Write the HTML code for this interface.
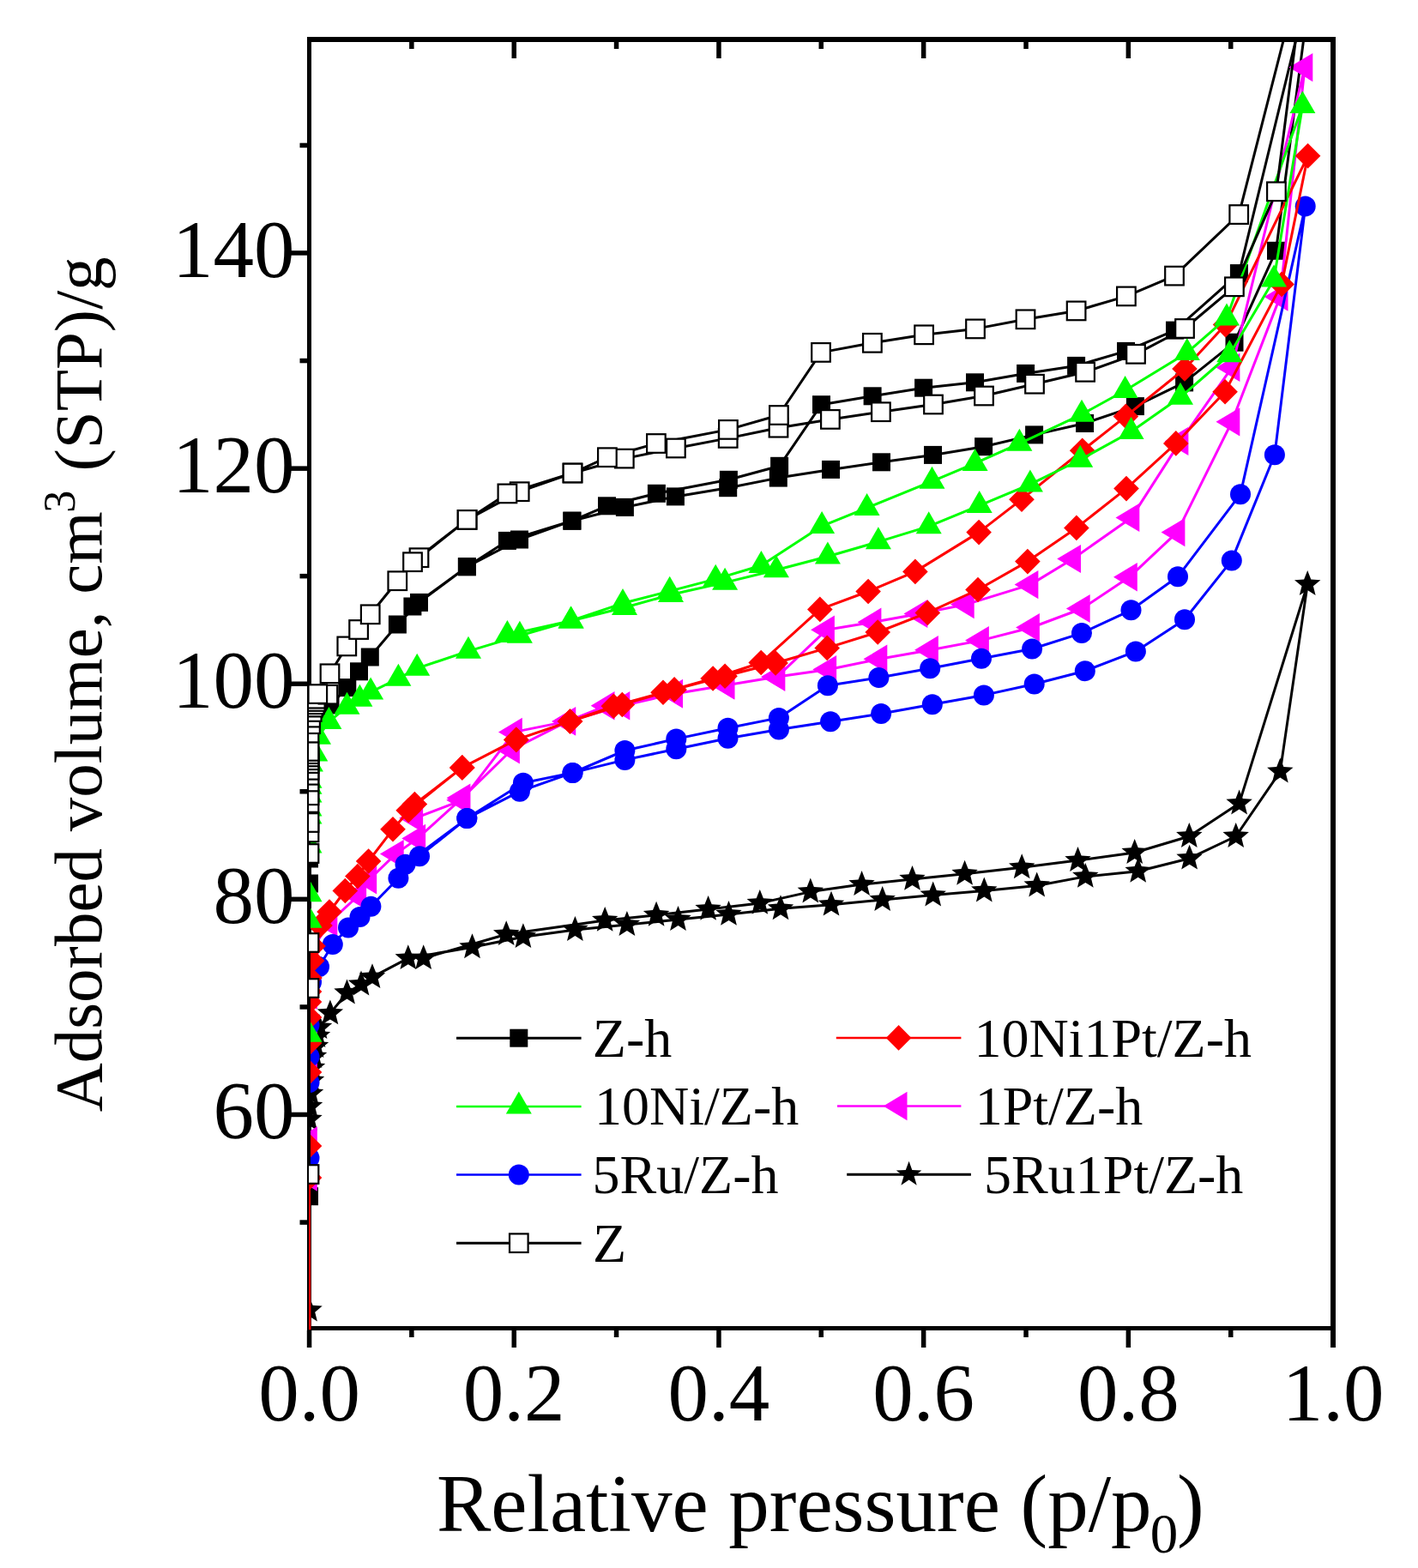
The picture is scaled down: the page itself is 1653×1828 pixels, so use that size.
<!DOCTYPE html>
<html><head><meta charset="utf-8"><title>Adsorption isotherms</title>
<style>html,body{margin:0;padding:0;background:#fff;overflow:hidden;}svg{display:block;}</style>
</head><body>
<svg width="1653" height="1828" viewBox="0 0 1653 1828">
<rect width="1653" height="1828" fill="#fff"/>
<defs><clipPath id="pc"><rect x="360" y="48.8" width="1191.2" height="1501.4"/></clipPath></defs>
<rect x="358" y="43" width="5" height="1528" fill="#000"/>
<rect x="358" y="43" width="1199" height="6" fill="#000"/>
<rect x="1551" y="43" width="6" height="1528" fill="#000"/>
<rect x="358" y="1546" width="1199" height="5" fill="#000"/>
<g clip-path="url(#pc)">
<path d="M360.5 1394.7L360.5 1030L360.5 1001L360.5 943L360.5 889L364 850L373 836L385 822L404.8 801.6L418.5 782.8L431.3 766L463.4 728L488.5 702.4L544.4 660.7L605.5 629L666.9 607.2L728.4 591.4L787.4 578.9L848.7 568.7L907.3 557.1L968.5 547.4L1027.5 538.8L1087.5 530.4L1146.6 520.7L1205.6 506.9L1264.6 493.5L1323.4 473.6L1380.6 445.9L1439 399.2L1487.5 292.3L1530 -33L1444.4 318.6L1369.5 385.1L1312.5 409.4L1254.6 426.4L1195.6 435.4L1136.5 445.8L1076.6 452.2L1017.1 461.8L957.5 471.7L908.6 543.3L849.4 559.3L765.4 575.3L707.5 589.8L666.9 607.2L591.4 630.4L544.4 660.7L480.9 707" fill="none" stroke="#000" stroke-width="3" stroke-linejoin="round"/>
<rect x="350" y="1384.2" width="21" height="21" fill="#000"/>
<rect x="350" y="1019.5" width="21" height="21" fill="#000"/>
<rect x="350" y="990.5" width="21" height="21" fill="#000"/>
<rect x="350" y="932.5" width="21" height="21" fill="#000"/>
<rect x="350" y="878.5" width="21" height="21" fill="#000"/>
<rect x="353.5" y="839.5" width="21" height="21" fill="#000"/>
<rect x="362.5" y="825.5" width="21" height="21" fill="#000"/>
<rect x="374.5" y="811.5" width="21" height="21" fill="#000"/>
<rect x="394.3" y="791.1" width="21" height="21" fill="#000"/>
<rect x="408" y="772.3" width="21" height="21" fill="#000"/>
<rect x="420.8" y="755.5" width="21" height="21" fill="#000"/>
<rect x="452.9" y="717.5" width="21" height="21" fill="#000"/>
<rect x="478" y="691.9" width="21" height="21" fill="#000"/>
<rect x="533.9" y="650.2" width="21" height="21" fill="#000"/>
<rect x="595" y="618.5" width="21" height="21" fill="#000"/>
<rect x="656.4" y="596.7" width="21" height="21" fill="#000"/>
<rect x="717.9" y="580.9" width="21" height="21" fill="#000"/>
<rect x="776.9" y="568.4" width="21" height="21" fill="#000"/>
<rect x="838.2" y="558.2" width="21" height="21" fill="#000"/>
<rect x="896.8" y="546.6" width="21" height="21" fill="#000"/>
<rect x="958" y="536.9" width="21" height="21" fill="#000"/>
<rect x="1017" y="528.3" width="21" height="21" fill="#000"/>
<rect x="1077" y="519.9" width="21" height="21" fill="#000"/>
<rect x="1136.1" y="510.2" width="21" height="21" fill="#000"/>
<rect x="1195.1" y="496.4" width="21" height="21" fill="#000"/>
<rect x="1254.1" y="483" width="21" height="21" fill="#000"/>
<rect x="1312.9" y="463.1" width="21" height="21" fill="#000"/>
<rect x="1370.1" y="435.4" width="21" height="21" fill="#000"/>
<rect x="1428.5" y="388.7" width="21" height="21" fill="#000"/>
<rect x="1477" y="281.8" width="21" height="21" fill="#000"/>
<rect x="1519.5" y="-43.5" width="21" height="21" fill="#000"/>
<rect x="1433.9" y="308.1" width="21" height="21" fill="#000"/>
<rect x="1359" y="374.6" width="21" height="21" fill="#000"/>
<rect x="1302" y="398.9" width="21" height="21" fill="#000"/>
<rect x="1244.1" y="415.9" width="21" height="21" fill="#000"/>
<rect x="1185.1" y="424.9" width="21" height="21" fill="#000"/>
<rect x="1126" y="435.3" width="21" height="21" fill="#000"/>
<rect x="1066.1" y="441.7" width="21" height="21" fill="#000"/>
<rect x="1006.6" y="451.3" width="21" height="21" fill="#000"/>
<rect x="947" y="461.2" width="21" height="21" fill="#000"/>
<rect x="898.1" y="532.8" width="21" height="21" fill="#000"/>
<rect x="838.9" y="548.8" width="21" height="21" fill="#000"/>
<rect x="754.9" y="564.8" width="21" height="21" fill="#000"/>
<rect x="697" y="579.3" width="21" height="21" fill="#000"/>
<rect x="656.4" y="596.7" width="21" height="21" fill="#000"/>
<rect x="580.9" y="619.9" width="21" height="21" fill="#000"/>
<rect x="533.9" y="650.2" width="21" height="21" fill="#000"/>
<rect x="470.4" y="696.5" width="21" height="21" fill="#000"/>
<path d="M360.5 1527.5L360.5 1305L361 1290L362 1275L363 1260L364 1245L366 1232L368 1220L370 1208L372 1198L384.9 1181.4L404.5 1157.5L421 1147.6L434 1139.2L475.8 1117.2L550.5 1104.3L609.9 1092.2L670.4 1084L730.9 1078L790.5 1072L849.5 1065.9L910 1059.3L969 1054.7L1028.7 1049.1L1087.7 1043.6L1147.3 1038.5L1208.7 1032.5L1265.3 1021.9L1326.7 1015.8L1386.6 1000.7L1440.7 975L1492.3 899.6L1524.2 681.1L1444.6 936.6L1386.3 975L1322.7 994L1256.5 1003.1L1191.2 1011.3L1124.6 1018.8L1063.5 1024.9L1004.6 1031.1L944.8 1039.6L885.8 1052.9L825.6 1059.9L765.1 1066.8L705.2 1072.9L590.2 1089.2L493.7 1117.2" fill="none" stroke="#000" stroke-width="3" stroke-linejoin="round"/>
<path d="M360.5 1511.5L364.6 1521.8L375.7 1522.6L367.2 1529.7L369.9 1540.4L360.5 1534.5L351.1 1540.4L353.8 1529.7L345.3 1522.6L356.4 1521.8Z" fill="#000"/>
<path d="M360.5 1289L364.6 1299.3L375.7 1300.1L367.2 1307.2L369.9 1317.9L360.5 1312L351.1 1317.9L353.8 1307.2L345.3 1300.1L356.4 1299.3Z" fill="#000"/>
<path d="M361 1274L365.1 1284.3L376.2 1285.1L367.7 1292.2L370.4 1302.9L361 1297L351.6 1302.9L354.3 1292.2L345.8 1285.1L356.9 1284.3Z" fill="#000"/>
<path d="M362 1259L366.1 1269.3L377.2 1270.1L368.7 1277.2L371.4 1287.9L362 1282L352.6 1287.9L355.3 1277.2L346.8 1270.1L357.9 1269.3Z" fill="#000"/>
<path d="M363 1244L367.1 1254.3L378.2 1255.1L369.7 1262.2L372.4 1272.9L363 1267L353.6 1272.9L356.3 1262.2L347.8 1255.1L358.9 1254.3Z" fill="#000"/>
<path d="M364 1229L368.1 1239.3L379.2 1240.1L370.7 1247.2L373.4 1257.9L364 1252L354.6 1257.9L357.3 1247.2L348.8 1240.1L359.9 1239.3Z" fill="#000"/>
<path d="M366 1216L370.1 1226.3L381.2 1227.1L372.7 1234.2L375.4 1244.9L366 1239L356.6 1244.9L359.3 1234.2L350.8 1227.1L361.9 1226.3Z" fill="#000"/>
<path d="M368 1204L372.1 1214.3L383.2 1215.1L374.7 1222.2L377.4 1232.9L368 1227L358.6 1232.9L361.3 1222.2L352.8 1215.1L363.9 1214.3Z" fill="#000"/>
<path d="M370 1192L374.1 1202.3L385.2 1203.1L376.7 1210.2L379.4 1220.9L370 1215L360.6 1220.9L363.3 1210.2L354.8 1203.1L365.9 1202.3Z" fill="#000"/>
<path d="M372 1182L376.1 1192.3L387.2 1193.1L378.7 1200.2L381.4 1210.9L372 1205L362.6 1210.9L365.3 1200.2L356.8 1193.1L367.9 1192.3Z" fill="#000"/>
<path d="M384.9 1165.4L389 1175.7L400.1 1176.5L391.6 1183.6L394.3 1194.3L384.9 1188.4L375.5 1194.3L378.2 1183.6L369.7 1176.5L380.8 1175.7Z" fill="#000"/>
<path d="M404.5 1141.5L408.6 1151.8L419.7 1152.6L411.2 1159.7L413.9 1170.4L404.5 1164.5L395.1 1170.4L397.8 1159.7L389.3 1152.6L400.4 1151.8Z" fill="#000"/>
<path d="M421 1131.6L425.1 1141.9L436.2 1142.7L427.7 1149.8L430.4 1160.5L421 1154.6L411.6 1160.5L414.3 1149.8L405.8 1142.7L416.9 1141.9Z" fill="#000"/>
<path d="M434 1123.2L438.1 1133.5L449.2 1134.3L440.7 1141.4L443.4 1152.1L434 1146.2L424.6 1152.1L427.3 1141.4L418.8 1134.3L429.9 1133.5Z" fill="#000"/>
<path d="M475.8 1101.2L479.9 1111.5L491 1112.3L482.5 1119.4L485.2 1130.1L475.8 1124.2L466.4 1130.1L469.1 1119.4L460.6 1112.3L471.7 1111.5Z" fill="#000"/>
<path d="M550.5 1088.3L554.6 1098.6L565.7 1099.4L557.2 1106.5L559.9 1117.2L550.5 1111.3L541.1 1117.2L543.8 1106.5L535.3 1099.4L546.4 1098.6Z" fill="#000"/>
<path d="M609.9 1076.2L614 1086.5L625.1 1087.3L616.6 1094.4L619.3 1105.1L609.9 1099.2L600.5 1105.1L603.2 1094.4L594.7 1087.3L605.8 1086.5Z" fill="#000"/>
<path d="M670.4 1068L674.5 1078.3L685.6 1079.1L677.1 1086.2L679.8 1096.9L670.4 1091L661 1096.9L663.7 1086.2L655.2 1079.1L666.3 1078.3Z" fill="#000"/>
<path d="M730.9 1062L735 1072.3L746.1 1073.1L737.6 1080.2L740.3 1090.9L730.9 1085L721.5 1090.9L724.2 1080.2L715.7 1073.1L726.8 1072.3Z" fill="#000"/>
<path d="M790.5 1056L794.6 1066.3L805.7 1067.1L797.2 1074.2L799.9 1084.9L790.5 1079L781.1 1084.9L783.8 1074.2L775.3 1067.1L786.4 1066.3Z" fill="#000"/>
<path d="M849.5 1049.9L853.6 1060.2L864.7 1061L856.2 1068.1L858.9 1078.8L849.5 1072.9L840.1 1078.8L842.8 1068.1L834.3 1061L845.4 1060.2Z" fill="#000"/>
<path d="M910 1043.3L914.1 1053.6L925.2 1054.4L916.7 1061.5L919.4 1072.2L910 1066.3L900.6 1072.2L903.3 1061.5L894.8 1054.4L905.9 1053.6Z" fill="#000"/>
<path d="M969 1038.7L973.1 1049L984.2 1049.8L975.7 1056.9L978.4 1067.6L969 1061.7L959.6 1067.6L962.3 1056.9L953.8 1049.8L964.9 1049Z" fill="#000"/>
<path d="M1028.7 1033.1L1032.8 1043.4L1043.9 1044.2L1035.4 1051.3L1038.1 1062L1028.7 1056.1L1019.3 1062L1022 1051.3L1013.5 1044.2L1024.6 1043.4Z" fill="#000"/>
<path d="M1087.7 1027.6L1091.8 1037.9L1102.9 1038.7L1094.4 1045.8L1097.1 1056.5L1087.7 1050.6L1078.3 1056.5L1081 1045.8L1072.5 1038.7L1083.6 1037.9Z" fill="#000"/>
<path d="M1147.3 1022.5L1151.4 1032.8L1162.5 1033.6L1154 1040.7L1156.7 1051.4L1147.3 1045.5L1137.9 1051.4L1140.6 1040.7L1132.1 1033.6L1143.2 1032.8Z" fill="#000"/>
<path d="M1208.7 1016.5L1212.8 1026.8L1223.9 1027.6L1215.4 1034.7L1218.1 1045.4L1208.7 1039.5L1199.3 1045.4L1202 1034.7L1193.5 1027.6L1204.6 1026.8Z" fill="#000"/>
<path d="M1265.3 1005.9L1269.4 1016.2L1280.5 1017L1272 1024.1L1274.7 1034.8L1265.3 1028.9L1255.9 1034.8L1258.6 1024.1L1250.1 1017L1261.2 1016.2Z" fill="#000"/>
<path d="M1326.7 999.8L1330.8 1010.1L1341.9 1010.9L1333.4 1018L1336.1 1028.7L1326.7 1022.8L1317.3 1028.7L1320 1018L1311.5 1010.9L1322.6 1010.1Z" fill="#000"/>
<path d="M1386.6 984.7L1390.7 995L1401.8 995.8L1393.3 1002.9L1396 1013.6L1386.6 1007.7L1377.2 1013.6L1379.9 1002.9L1371.4 995.8L1382.5 995Z" fill="#000"/>
<path d="M1440.7 959L1444.8 969.3L1455.9 970.1L1447.4 977.2L1450.1 987.9L1440.7 982L1431.3 987.9L1434 977.2L1425.5 970.1L1436.6 969.3Z" fill="#000"/>
<path d="M1492.3 883.6L1496.4 893.9L1507.5 894.7L1499 901.8L1501.7 912.5L1492.3 906.6L1482.9 912.5L1485.6 901.8L1477.1 894.7L1488.2 893.9Z" fill="#000"/>
<path d="M1524.2 665.1L1528.3 675.4L1539.4 676.2L1530.9 683.3L1533.6 694L1524.2 688.1L1514.8 694L1517.5 683.3L1509 676.2L1520.1 675.4Z" fill="#000"/>
<path d="M1444.6 920.6L1448.7 930.9L1459.8 931.7L1451.3 938.8L1454 949.5L1444.6 943.6L1435.2 949.5L1437.9 938.8L1429.4 931.7L1440.5 930.9Z" fill="#000"/>
<path d="M1386.3 959L1390.4 969.3L1401.5 970.1L1393 977.2L1395.7 987.9L1386.3 982L1376.9 987.9L1379.6 977.2L1371.1 970.1L1382.2 969.3Z" fill="#000"/>
<path d="M1322.7 978L1326.8 988.3L1337.9 989.1L1329.4 996.2L1332.1 1006.9L1322.7 1001L1313.3 1006.9L1316 996.2L1307.5 989.1L1318.6 988.3Z" fill="#000"/>
<path d="M1256.5 987.1L1260.6 997.4L1271.7 998.2L1263.2 1005.3L1265.9 1016L1256.5 1010.1L1247.1 1016L1249.8 1005.3L1241.3 998.2L1252.4 997.4Z" fill="#000"/>
<path d="M1191.2 995.3L1195.3 1005.6L1206.4 1006.4L1197.9 1013.5L1200.6 1024.2L1191.2 1018.3L1181.8 1024.2L1184.5 1013.5L1176 1006.4L1187.1 1005.6Z" fill="#000"/>
<path d="M1124.6 1002.8L1128.7 1013.1L1139.8 1013.9L1131.3 1021L1134 1031.7L1124.6 1025.8L1115.2 1031.7L1117.9 1021L1109.4 1013.9L1120.5 1013.1Z" fill="#000"/>
<path d="M1063.5 1008.9L1067.6 1019.2L1078.7 1020L1070.2 1027.1L1072.9 1037.8L1063.5 1031.9L1054.1 1037.8L1056.8 1027.1L1048.3 1020L1059.4 1019.2Z" fill="#000"/>
<path d="M1004.6 1015.1L1008.7 1025.4L1019.8 1026.2L1011.3 1033.3L1014 1044L1004.6 1038.1L995.2 1044L997.9 1033.3L989.4 1026.2L1000.5 1025.4Z" fill="#000"/>
<path d="M944.8 1023.6L948.9 1033.9L960 1034.7L951.5 1041.8L954.2 1052.5L944.8 1046.6L935.4 1052.5L938.1 1041.8L929.6 1034.7L940.7 1033.9Z" fill="#000"/>
<path d="M885.8 1036.9L889.9 1047.2L901 1048L892.5 1055.1L895.2 1065.8L885.8 1059.9L876.4 1065.8L879.1 1055.1L870.6 1048L881.7 1047.2Z" fill="#000"/>
<path d="M825.6 1043.9L829.7 1054.2L840.8 1055L832.3 1062.1L835 1072.8L825.6 1066.9L816.2 1072.8L818.9 1062.1L810.4 1055L821.5 1054.2Z" fill="#000"/>
<path d="M765.1 1050.8L769.2 1061.1L780.3 1061.9L771.8 1069L774.5 1079.7L765.1 1073.8L755.7 1079.7L758.4 1069L749.9 1061.9L761 1061.1Z" fill="#000"/>
<path d="M705.2 1056.9L709.3 1067.2L720.4 1068L711.9 1075.1L714.6 1085.8L705.2 1079.9L695.8 1085.8L698.5 1075.1L690 1068L701.1 1067.2Z" fill="#000"/>
<path d="M590.2 1073.2L594.3 1083.5L605.4 1084.3L596.9 1091.4L599.6 1102.1L590.2 1096.2L580.8 1102.1L583.5 1091.4L575 1084.3L586.1 1083.5Z" fill="#000"/>
<path d="M493.7 1101.2L497.8 1111.5L508.9 1112.3L500.4 1119.4L503.1 1130.1L493.7 1124.2L484.3 1130.1L487 1119.4L478.5 1112.3L489.6 1111.5Z" fill="#000"/>
<path d="M360.5 1372L360.5 1330L360.5 1250L360.5 1200L360.5 1160L362 1110L384 1075.4L417.8 1044L429.9 1025.8L461.4 995.6L486.8 977.4L539.1 930.2L596.6 874L661.8 840.9L725 822.7L786.7 808.7L847 798.8L905.9 789.1L965.8 780.5L1025 768.3L1084.6 757.8L1143.6 746.6L1202.6 731.5L1261.4 709.5L1316.5 672.8L1372.1 620.6L1436 491.8L1492.2 346.1L1521 78.5L1436.1 428.4L1376.1 514.4L1319 603.4L1250.7 651.5L1201.1 681.6L1126.4 704.6L1072 715.5L1018.1 725.3L963.6 734.2L905.9 789.1L847 798.8L786.7 808.7L707.2 822.7L661.8 840.9L599.5 853.4L538.8 932.8L483.8 953.8" fill="none" stroke="#f0f" stroke-width="3" stroke-linejoin="round"/>
<path d="M342 1372L369.8 1355.3L369.8 1388.7Z" fill="#f0f"/>
<path d="M342 1330L369.8 1313.3L369.8 1346.7Z" fill="#f0f"/>
<path d="M342 1250L369.8 1233.3L369.8 1266.7Z" fill="#f0f"/>
<path d="M342 1200L369.8 1183.3L369.8 1216.7Z" fill="#f0f"/>
<path d="M342 1160L369.8 1143.3L369.8 1176.7Z" fill="#f0f"/>
<path d="M343.5 1110L371.3 1093.3L371.3 1126.7Z" fill="#f0f"/>
<path d="M365.5 1075.4L393.3 1058.8L393.3 1092.1Z" fill="#f0f"/>
<path d="M399.3 1044L427.1 1027.3L427.1 1060.7Z" fill="#f0f"/>
<path d="M411.4 1025.8L439.2 1009.1L439.2 1042.5Z" fill="#f0f"/>
<path d="M442.9 995.6L470.7 979L470.7 1012.2Z" fill="#f0f"/>
<path d="M468.3 977.4L496.1 960.8L496.1 994Z" fill="#f0f"/>
<path d="M520.6 930.2L548.4 913.6L548.4 946.9Z" fill="#f0f"/>
<path d="M578.1 874L605.9 857.4L605.9 890.6Z" fill="#f0f"/>
<path d="M643.3 840.9L671.1 824.2L671.1 857.5Z" fill="#f0f"/>
<path d="M706.5 822.7L734.3 806.1L734.3 839.4Z" fill="#f0f"/>
<path d="M768.2 808.7L796 792.1L796 825.4Z" fill="#f0f"/>
<path d="M828.5 798.8L856.3 782.1L856.3 815.4Z" fill="#f0f"/>
<path d="M887.4 789.1L915.2 772.5L915.2 805.8Z" fill="#f0f"/>
<path d="M947.3 780.5L975.1 763.9L975.1 797.1Z" fill="#f0f"/>
<path d="M1006.5 768.3L1034.3 751.6L1034.3 784.9Z" fill="#f0f"/>
<path d="M1066.1 757.8L1093.9 741.1L1093.9 774.4Z" fill="#f0f"/>
<path d="M1125.1 746.6L1152.9 730L1152.9 763.2Z" fill="#f0f"/>
<path d="M1184.1 731.5L1211.9 714.9L1211.9 748.1Z" fill="#f0f"/>
<path d="M1242.9 709.5L1270.7 692.9L1270.7 726.1Z" fill="#f0f"/>
<path d="M1298 672.8L1325.8 656.1L1325.8 689.4Z" fill="#f0f"/>
<path d="M1353.6 620.6L1381.4 604L1381.4 637.2Z" fill="#f0f"/>
<path d="M1417.5 491.8L1445.3 475.2L1445.3 508.4Z" fill="#f0f"/>
<path d="M1473.7 346.1L1501.5 329.5L1501.5 362.8Z" fill="#f0f"/>
<path d="M1502.5 78.5L1530.3 61.9L1530.3 95.2Z" fill="#f0f"/>
<path d="M1417.6 428.4L1445.4 411.8L1445.4 445Z" fill="#f0f"/>
<path d="M1357.6 514.4L1385.4 497.8L1385.4 531Z" fill="#f0f"/>
<path d="M1300.5 603.4L1328.3 586.8L1328.3 620Z" fill="#f0f"/>
<path d="M1232.2 651.5L1260 634.9L1260 668.1Z" fill="#f0f"/>
<path d="M1182.6 681.6L1210.4 665L1210.4 698.2Z" fill="#f0f"/>
<path d="M1107.9 704.6L1135.7 688L1135.7 721.2Z" fill="#f0f"/>
<path d="M1053.5 715.5L1081.3 698.9L1081.3 732.1Z" fill="#f0f"/>
<path d="M999.6 725.3L1027.4 708.6L1027.4 741.9Z" fill="#f0f"/>
<path d="M945.1 734.2L972.9 717.6L972.9 750.9Z" fill="#f0f"/>
<path d="M887.4 789.1L915.2 772.5L915.2 805.8Z" fill="#f0f"/>
<path d="M828.5 798.8L856.3 782.1L856.3 815.4Z" fill="#f0f"/>
<path d="M768.2 808.7L796 792.1L796 825.4Z" fill="#f0f"/>
<path d="M688.7 822.7L716.5 806.1L716.5 839.4Z" fill="#f0f"/>
<path d="M643.3 840.9L671.1 824.2L671.1 857.5Z" fill="#f0f"/>
<path d="M581 853.4L608.8 836.8L608.8 870Z" fill="#f0f"/>
<path d="M520.3 932.8L548.1 916.1L548.1 949.4Z" fill="#f0f"/>
<path d="M465.3 953.8L493.1 937.1L493.1 970.4Z" fill="#f0f"/>
<path d="M360.5 1350L360.5 1262L360.5 1232L360.5 1195L363 1145L372 1127L387.8 1101L406 1081.5L419.5 1069L432.4 1056.8L464.4 1023.8L489 998.2L544.3 954.1L605.9 922.7L667.5 900.9L728.4 885.9L788.3 873.2L848.5 860.8L907.9 850.5L968.1 841.2L1027.1 832.1L1086.8 821.2L1146.9 810.4L1205.7 797.5L1264.8 782.2L1323.9 759.4L1381 722.2L1435.8 653.4L1485.9 530.3L1521.7 240.5L1446 576.2L1373 672.3L1318.5 711.3L1261 738.1L1203.1 756.5L1144 767.7L1084.2 779.3L1024.4 789.9L964.9 799.3L907.9 836.9L848.5 848.7L788.3 861.4L728.4 875L667.5 900.9L609.9 912.7L544.3 954.1L472.5 1007.7" fill="none" stroke="#00f" stroke-width="3" stroke-linejoin="round"/>
<circle cx="360.5" cy="1350" r="12" fill="#00f"/>
<circle cx="360.5" cy="1262" r="12" fill="#00f"/>
<circle cx="360.5" cy="1232" r="12" fill="#00f"/>
<circle cx="360.5" cy="1195" r="12" fill="#00f"/>
<circle cx="363" cy="1145" r="12" fill="#00f"/>
<circle cx="372" cy="1127" r="12" fill="#00f"/>
<circle cx="387.8" cy="1101" r="12" fill="#00f"/>
<circle cx="406" cy="1081.5" r="12" fill="#00f"/>
<circle cx="419.5" cy="1069" r="12" fill="#00f"/>
<circle cx="432.4" cy="1056.8" r="12" fill="#00f"/>
<circle cx="464.4" cy="1023.8" r="12" fill="#00f"/>
<circle cx="489" cy="998.2" r="12" fill="#00f"/>
<circle cx="544.3" cy="954.1" r="12" fill="#00f"/>
<circle cx="605.9" cy="922.7" r="12" fill="#00f"/>
<circle cx="667.5" cy="900.9" r="12" fill="#00f"/>
<circle cx="728.4" cy="885.9" r="12" fill="#00f"/>
<circle cx="788.3" cy="873.2" r="12" fill="#00f"/>
<circle cx="848.5" cy="860.8" r="12" fill="#00f"/>
<circle cx="907.9" cy="850.5" r="12" fill="#00f"/>
<circle cx="968.1" cy="841.2" r="12" fill="#00f"/>
<circle cx="1027.1" cy="832.1" r="12" fill="#00f"/>
<circle cx="1086.8" cy="821.2" r="12" fill="#00f"/>
<circle cx="1146.9" cy="810.4" r="12" fill="#00f"/>
<circle cx="1205.7" cy="797.5" r="12" fill="#00f"/>
<circle cx="1264.8" cy="782.2" r="12" fill="#00f"/>
<circle cx="1323.9" cy="759.4" r="12" fill="#00f"/>
<circle cx="1381" cy="722.2" r="12" fill="#00f"/>
<circle cx="1435.8" cy="653.4" r="12" fill="#00f"/>
<circle cx="1485.9" cy="530.3" r="12" fill="#00f"/>
<circle cx="1521.7" cy="240.5" r="12" fill="#00f"/>
<circle cx="1446" cy="576.2" r="12" fill="#00f"/>
<circle cx="1373" cy="672.3" r="12" fill="#00f"/>
<circle cx="1318.5" cy="711.3" r="12" fill="#00f"/>
<circle cx="1261" cy="738.1" r="12" fill="#00f"/>
<circle cx="1203.1" cy="756.5" r="12" fill="#00f"/>
<circle cx="1144" cy="767.7" r="12" fill="#00f"/>
<circle cx="1084.2" cy="779.3" r="12" fill="#00f"/>
<circle cx="1024.4" cy="789.9" r="12" fill="#00f"/>
<circle cx="964.9" cy="799.3" r="12" fill="#00f"/>
<circle cx="907.9" cy="836.9" r="12" fill="#00f"/>
<circle cx="848.5" cy="848.7" r="12" fill="#00f"/>
<circle cx="788.3" cy="861.4" r="12" fill="#00f"/>
<circle cx="728.4" cy="875" r="12" fill="#00f"/>
<circle cx="667.5" cy="900.9" r="12" fill="#00f"/>
<circle cx="609.9" cy="912.7" r="12" fill="#00f"/>
<circle cx="544.3" cy="954.1" r="12" fill="#00f"/>
<circle cx="472.5" cy="1007.7" r="12" fill="#00f"/>
<path d="M361 1580L360.5 1373L360.5 1336L360.5 1250L360.5 1216L360.5 1186L360.5 1168L360.5 1156L361 1140L363.7 1120L365 1103L373 1079L384 1063L402.3 1038.5L416.9 1021.6L429.6 1004L458 966.8L483.4 937.5L538.8 894.9L601.8 862.4L664.5 841L725.3 821.5L786.1 803.9L845.1 788.2L904.1 773L964.2 755.4L1023.2 737L1081.3 714.4L1140 687.5L1197.9 654.6L1254.9 615.4L1313 569.6L1370.8 516.9L1428.1 456.7L1494.1 331.4L1524.6 181.8L1428.6 378.6L1381 430L1312.4 485.4L1261.7 525.3L1191 582.2L1141.1 620.6L1066.9 666.4L1012.1 689.5L955.8 710.4L887.2 772.5L831.1 791L773 807.3L715.3 823.3L664.5 841L601.8 862.4L538.8 894.9L476.2 944.8" fill="none" stroke="#f00" stroke-width="3" stroke-linejoin="round"/>
<path d="M361 1565.2L375.8 1580L361 1594.8L346.2 1580Z" fill="#f00"/>
<path d="M360.5 1358.2L375.3 1373L360.5 1387.8L345.7 1373Z" fill="#f00"/>
<path d="M360.5 1321.2L375.3 1336L360.5 1350.8L345.7 1336Z" fill="#f00"/>
<path d="M360.5 1235.2L375.3 1250L360.5 1264.8L345.7 1250Z" fill="#f00"/>
<path d="M360.5 1201.2L375.3 1216L360.5 1230.8L345.7 1216Z" fill="#f00"/>
<path d="M360.5 1171.2L375.3 1186L360.5 1200.8L345.7 1186Z" fill="#f00"/>
<path d="M360.5 1153.2L375.3 1168L360.5 1182.8L345.7 1168Z" fill="#f00"/>
<path d="M360.5 1141.2L375.3 1156L360.5 1170.8L345.7 1156Z" fill="#f00"/>
<path d="M361 1125.2L375.8 1140L361 1154.8L346.2 1140Z" fill="#f00"/>
<path d="M363.7 1105.2L378.5 1120L363.7 1134.8L348.9 1120Z" fill="#f00"/>
<path d="M365 1088.2L379.8 1103L365 1117.8L350.2 1103Z" fill="#f00"/>
<path d="M373 1064.2L387.8 1079L373 1093.8L358.2 1079Z" fill="#f00"/>
<path d="M384 1048.2L398.8 1063L384 1077.8L369.2 1063Z" fill="#f00"/>
<path d="M402.3 1023.7L417.1 1038.5L402.3 1053.3L387.5 1038.5Z" fill="#f00"/>
<path d="M416.9 1006.8L431.7 1021.6L416.9 1036.4L402.1 1021.6Z" fill="#f00"/>
<path d="M429.6 989.2L444.4 1004L429.6 1018.8L414.8 1004Z" fill="#f00"/>
<path d="M458 952L472.8 966.8L458 981.6L443.2 966.8Z" fill="#f00"/>
<path d="M483.4 922.7L498.2 937.5L483.4 952.3L468.6 937.5Z" fill="#f00"/>
<path d="M538.8 880.1L553.6 894.9L538.8 909.7L524 894.9Z" fill="#f00"/>
<path d="M601.8 847.6L616.6 862.4L601.8 877.2L587 862.4Z" fill="#f00"/>
<path d="M664.5 826.2L679.3 841L664.5 855.8L649.7 841Z" fill="#f00"/>
<path d="M725.3 806.7L740.1 821.5L725.3 836.3L710.5 821.5Z" fill="#f00"/>
<path d="M786.1 789.1L800.9 803.9L786.1 818.7L771.3 803.9Z" fill="#f00"/>
<path d="M845.1 773.4L859.9 788.2L845.1 803L830.3 788.2Z" fill="#f00"/>
<path d="M904.1 758.2L918.9 773L904.1 787.8L889.3 773Z" fill="#f00"/>
<path d="M964.2 740.6L979 755.4L964.2 770.2L949.4 755.4Z" fill="#f00"/>
<path d="M1023.2 722.2L1038 737L1023.2 751.8L1008.4 737Z" fill="#f00"/>
<path d="M1081.3 699.6L1096.1 714.4L1081.3 729.2L1066.5 714.4Z" fill="#f00"/>
<path d="M1140 672.7L1154.8 687.5L1140 702.3L1125.2 687.5Z" fill="#f00"/>
<path d="M1197.9 639.8L1212.7 654.6L1197.9 669.4L1183.1 654.6Z" fill="#f00"/>
<path d="M1254.9 600.6L1269.7 615.4L1254.9 630.2L1240.1 615.4Z" fill="#f00"/>
<path d="M1313 554.8L1327.8 569.6L1313 584.4L1298.2 569.6Z" fill="#f00"/>
<path d="M1370.8 502.1L1385.6 516.9L1370.8 531.7L1356 516.9Z" fill="#f00"/>
<path d="M1428.1 441.9L1442.9 456.7L1428.1 471.5L1413.3 456.7Z" fill="#f00"/>
<path d="M1494.1 316.6L1508.9 331.4L1494.1 346.2L1479.3 331.4Z" fill="#f00"/>
<path d="M1524.6 167L1539.4 181.8L1524.6 196.6L1509.8 181.8Z" fill="#f00"/>
<path d="M1428.6 363.8L1443.4 378.6L1428.6 393.4L1413.8 378.6Z" fill="#f00"/>
<path d="M1381 415.2L1395.8 430L1381 444.8L1366.2 430Z" fill="#f00"/>
<path d="M1312.4 470.6L1327.2 485.4L1312.4 500.2L1297.6 485.4Z" fill="#f00"/>
<path d="M1261.7 510.5L1276.5 525.3L1261.7 540.1L1246.9 525.3Z" fill="#f00"/>
<path d="M1191 567.4L1205.8 582.2L1191 597L1176.2 582.2Z" fill="#f00"/>
<path d="M1141.1 605.8L1155.9 620.6L1141.1 635.4L1126.3 620.6Z" fill="#f00"/>
<path d="M1066.9 651.6L1081.7 666.4L1066.9 681.2L1052.1 666.4Z" fill="#f00"/>
<path d="M1012.1 674.7L1026.9 689.5L1012.1 704.3L997.3 689.5Z" fill="#f00"/>
<path d="M955.8 695.6L970.6 710.4L955.8 725.2L941 710.4Z" fill="#f00"/>
<path d="M887.2 757.7L902 772.5L887.2 787.3L872.4 772.5Z" fill="#f00"/>
<path d="M831.1 776.2L845.9 791L831.1 805.8L816.3 791Z" fill="#f00"/>
<path d="M773 792.5L787.8 807.3L773 822.1L758.2 807.3Z" fill="#f00"/>
<path d="M715.3 808.5L730.1 823.3L715.3 838.1L700.5 823.3Z" fill="#f00"/>
<path d="M664.5 826.2L679.3 841L664.5 855.8L649.7 841Z" fill="#f00"/>
<path d="M601.8 847.6L616.6 862.4L601.8 877.2L587 862.4Z" fill="#f00"/>
<path d="M538.8 880.1L553.6 894.9L538.8 909.7L524 894.9Z" fill="#f00"/>
<path d="M476.2 930L491 944.8L476.2 959.6L461.4 944.8Z" fill="#f00"/>
<path d="M360.5 1206L360.5 1073L360.5 1042.5L360.5 985.8L360.5 951.8L360.5 942.7L360.5 926.8L360.5 917L360.5 910L361.9 890.8L367.3 878.7L371 859L383.4 841.3L404.5 824.1L419.4 815L432.1 806.8L464.4 791L486.2 779.1L546 759.1L605.9 741.1L665.6 723.7L728 708.3L782 693.3L845.1 679.1L904.9 664.5L964.9 648.8L1023.9 631.6L1082.7 613.6L1141.7 589.3L1200.9 564.7L1259.2 536L1318.6 503.3L1376 463.1L1433.2 413.5L1485 325.9L1518.4 123.4L1430 370.8L1383.8 411.2L1311.6 455.3L1261 483.1L1188.4 517.1L1136.6 540.2L1086.5 561.1L1010.6 592.2L958.1 613.3L887.4 659.3L834.2 675.1L780.7 689.1L726 703.3L665.6 723.7L591.4 740.2" fill="none" stroke="#0f0" stroke-width="3" stroke-linejoin="round"/>
<path d="M360.5 1188.7L375.5 1214.7L345.5 1214.7Z" fill="#0f0"/>
<path d="M360.5 1055.7L375.5 1081.7L345.5 1081.7Z" fill="#0f0"/>
<path d="M360.5 1025.2L375.5 1051.2L345.5 1051.2Z" fill="#0f0"/>
<path d="M360.5 968.5L375.5 994.5L345.5 994.5Z" fill="#0f0"/>
<path d="M360.5 934.5L375.5 960.5L345.5 960.5Z" fill="#0f0"/>
<path d="M360.5 925.4L375.5 951.4L345.5 951.4Z" fill="#0f0"/>
<path d="M360.5 909.5L375.5 935.5L345.5 935.5Z" fill="#0f0"/>
<path d="M360.5 899.7L375.5 925.7L345.5 925.7Z" fill="#0f0"/>
<path d="M360.5 892.7L375.5 918.7L345.5 918.7Z" fill="#0f0"/>
<path d="M361.9 873.5L376.9 899.5L346.9 899.5Z" fill="#0f0"/>
<path d="M367.3 861.4L382.3 887.4L352.3 887.4Z" fill="#0f0"/>
<path d="M371 841.7L386 867.7L356 867.7Z" fill="#0f0"/>
<path d="M383.4 824L398.4 850L368.4 850Z" fill="#0f0"/>
<path d="M404.5 806.8L419.5 832.8L389.5 832.8Z" fill="#0f0"/>
<path d="M419.4 797.7L434.4 823.7L404.4 823.7Z" fill="#0f0"/>
<path d="M432.1 789.5L447.1 815.5L417.1 815.5Z" fill="#0f0"/>
<path d="M464.4 773.7L479.4 799.7L449.4 799.7Z" fill="#0f0"/>
<path d="M486.2 761.8L501.2 787.8L471.2 787.8Z" fill="#0f0"/>
<path d="M546 741.8L561 767.8L531 767.8Z" fill="#0f0"/>
<path d="M605.9 723.8L620.9 749.8L590.9 749.8Z" fill="#0f0"/>
<path d="M665.6 706.4L680.6 732.4L650.6 732.4Z" fill="#0f0"/>
<path d="M728 691L743 717L713 717Z" fill="#0f0"/>
<path d="M782 676L797 702L767 702Z" fill="#0f0"/>
<path d="M845.1 661.8L860.1 687.8L830.1 687.8Z" fill="#0f0"/>
<path d="M904.9 647.2L919.9 673.2L889.9 673.2Z" fill="#0f0"/>
<path d="M964.9 631.5L979.9 657.5L949.9 657.5Z" fill="#0f0"/>
<path d="M1023.9 614.3L1038.9 640.3L1008.9 640.3Z" fill="#0f0"/>
<path d="M1082.7 596.3L1097.7 622.3L1067.7 622.3Z" fill="#0f0"/>
<path d="M1141.7 572L1156.7 598L1126.7 598Z" fill="#0f0"/>
<path d="M1200.9 547.4L1215.9 573.4L1185.9 573.4Z" fill="#0f0"/>
<path d="M1259.2 518.7L1274.2 544.7L1244.2 544.7Z" fill="#0f0"/>
<path d="M1318.6 486L1333.6 512L1303.6 512Z" fill="#0f0"/>
<path d="M1376 445.8L1391 471.8L1361 471.8Z" fill="#0f0"/>
<path d="M1433.2 396.2L1448.2 422.2L1418.2 422.2Z" fill="#0f0"/>
<path d="M1485 308.6L1500 334.6L1470 334.6Z" fill="#0f0"/>
<path d="M1518.4 106.1L1533.4 132.1L1503.4 132.1Z" fill="#0f0"/>
<path d="M1430 353.5L1445 379.5L1415 379.5Z" fill="#0f0"/>
<path d="M1383.8 393.9L1398.8 419.9L1368.8 419.9Z" fill="#0f0"/>
<path d="M1311.6 438L1326.6 464L1296.6 464Z" fill="#0f0"/>
<path d="M1261 465.8L1276 491.8L1246 491.8Z" fill="#0f0"/>
<path d="M1188.4 499.8L1203.4 525.8L1173.4 525.8Z" fill="#0f0"/>
<path d="M1136.6 522.9L1151.6 548.9L1121.6 548.9Z" fill="#0f0"/>
<path d="M1086.5 543.8L1101.5 569.8L1071.5 569.8Z" fill="#0f0"/>
<path d="M1010.6 574.9L1025.6 600.9L995.6 600.9Z" fill="#0f0"/>
<path d="M958.1 596L973.1 622L943.1 622Z" fill="#0f0"/>
<path d="M887.4 642L902.4 668L872.4 668Z" fill="#0f0"/>
<path d="M834.2 657.8L849.2 683.8L819.2 683.8Z" fill="#0f0"/>
<path d="M780.7 671.8L795.7 697.8L765.7 697.8Z" fill="#0f0"/>
<path d="M726 686L741 712L711 712Z" fill="#0f0"/>
<path d="M665.6 706.4L680.6 732.4L650.6 732.4Z" fill="#0f0"/>
<path d="M591.4 722.9L606.4 748.9L576.4 748.9Z" fill="#0f0"/>
<path d="M360.5 1369L360.5 1152L360.5 1099L360.5 995L360.5 970.5L360.5 959L360.5 936L360.5 927.3L360.5 911.5L360.5 903.8L360.5 897.8L360.5 890.1L360.5 886.3L360.5 882.5L360.5 879.2L360.5 875.9L360.5 854.6L362 844.2L362.1 836.6L363.7 830L364.8 824.6L366.7 821.3L367.8 818L367.8 814.7L382.4 809.7L370.3 809.1L384.5 785.3L404.3 753.4L418.1 734L431.7 716.3L463.3 677.2L488.5 650.2L544.6 605.9L605.7 573.2L667.5 551.5L727.8 534.6L787.9 522.5L848.7 510.9L907.5 498.7L967.9 488.9L1026.9 480.2L1088 471.5L1147 461.5L1206 447.7L1265.1 433.8L1324 412.8L1381 383L1438.9 334.3L1487.9 223.3L1524.3 -63L1444.2 250.1L1369 321.6L1312.9 345.4L1254.6 362.4L1195.5 372.3L1137 383.4L1077.1 390.3L1016.9 399.8L957 410.9L907.9 484L848.9 500.9L764.9 517L707.9 533.2L667.5 551.5L591.4 575.4L544.6 605.9L481 655.2" fill="none" stroke="#000" stroke-width="3" stroke-linejoin="round"/>
<rect x="349.7" y="1358.2" width="21.6" height="21.6" fill="#fff" stroke="#000" stroke-width="2.2"/>
<rect x="349.7" y="1141.2" width="21.6" height="21.6" fill="#fff" stroke="#000" stroke-width="2.2"/>
<rect x="349.7" y="1088.2" width="21.6" height="21.6" fill="#fff" stroke="#000" stroke-width="2.2"/>
<rect x="349.7" y="984.2" width="21.6" height="21.6" fill="#fff" stroke="#000" stroke-width="2.2"/>
<rect x="349.7" y="959.7" width="21.6" height="21.6" fill="#fff" stroke="#000" stroke-width="2.2"/>
<rect x="349.7" y="948.2" width="21.6" height="21.6" fill="#fff" stroke="#000" stroke-width="2.2"/>
<rect x="349.7" y="925.2" width="21.6" height="21.6" fill="#fff" stroke="#000" stroke-width="2.2"/>
<rect x="349.7" y="916.5" width="21.6" height="21.6" fill="#fff" stroke="#000" stroke-width="2.2"/>
<rect x="349.7" y="900.7" width="21.6" height="21.6" fill="#fff" stroke="#000" stroke-width="2.2"/>
<rect x="349.7" y="893" width="21.6" height="21.6" fill="#fff" stroke="#000" stroke-width="2.2"/>
<rect x="349.7" y="887" width="21.6" height="21.6" fill="#fff" stroke="#000" stroke-width="2.2"/>
<rect x="349.7" y="879.3" width="21.6" height="21.6" fill="#fff" stroke="#000" stroke-width="2.2"/>
<rect x="349.7" y="875.5" width="21.6" height="21.6" fill="#fff" stroke="#000" stroke-width="2.2"/>
<rect x="349.7" y="871.7" width="21.6" height="21.6" fill="#fff" stroke="#000" stroke-width="2.2"/>
<rect x="349.7" y="868.4" width="21.6" height="21.6" fill="#fff" stroke="#000" stroke-width="2.2"/>
<rect x="349.7" y="865.1" width="21.6" height="21.6" fill="#fff" stroke="#000" stroke-width="2.2"/>
<rect x="349.7" y="843.8" width="21.6" height="21.6" fill="#fff" stroke="#000" stroke-width="2.2"/>
<rect x="351.2" y="833.4" width="21.6" height="21.6" fill="#fff" stroke="#000" stroke-width="2.2"/>
<rect x="351.3" y="825.8" width="21.6" height="21.6" fill="#fff" stroke="#000" stroke-width="2.2"/>
<rect x="352.9" y="819.2" width="21.6" height="21.6" fill="#fff" stroke="#000" stroke-width="2.2"/>
<rect x="354" y="813.8" width="21.6" height="21.6" fill="#fff" stroke="#000" stroke-width="2.2"/>
<rect x="355.9" y="810.5" width="21.6" height="21.6" fill="#fff" stroke="#000" stroke-width="2.2"/>
<rect x="357" y="807.2" width="21.6" height="21.6" fill="#fff" stroke="#000" stroke-width="2.2"/>
<rect x="357" y="803.9" width="21.6" height="21.6" fill="#fff" stroke="#000" stroke-width="2.2"/>
<rect x="371.6" y="798.9" width="21.6" height="21.6" fill="#fff" stroke="#000" stroke-width="2.2"/>
<rect x="359.5" y="798.3" width="21.6" height="21.6" fill="#fff" stroke="#000" stroke-width="2.2"/>
<rect x="373.7" y="774.5" width="21.6" height="21.6" fill="#fff" stroke="#000" stroke-width="2.2"/>
<rect x="393.5" y="742.6" width="21.6" height="21.6" fill="#fff" stroke="#000" stroke-width="2.2"/>
<rect x="407.3" y="723.2" width="21.6" height="21.6" fill="#fff" stroke="#000" stroke-width="2.2"/>
<rect x="420.9" y="705.5" width="21.6" height="21.6" fill="#fff" stroke="#000" stroke-width="2.2"/>
<rect x="452.5" y="666.4" width="21.6" height="21.6" fill="#fff" stroke="#000" stroke-width="2.2"/>
<rect x="477.7" y="639.4" width="21.6" height="21.6" fill="#fff" stroke="#000" stroke-width="2.2"/>
<rect x="533.8" y="595.1" width="21.6" height="21.6" fill="#fff" stroke="#000" stroke-width="2.2"/>
<rect x="594.9" y="562.4" width="21.6" height="21.6" fill="#fff" stroke="#000" stroke-width="2.2"/>
<rect x="656.7" y="540.7" width="21.6" height="21.6" fill="#fff" stroke="#000" stroke-width="2.2"/>
<rect x="717" y="523.8" width="21.6" height="21.6" fill="#fff" stroke="#000" stroke-width="2.2"/>
<rect x="777.1" y="511.7" width="21.6" height="21.6" fill="#fff" stroke="#000" stroke-width="2.2"/>
<rect x="837.9" y="500.1" width="21.6" height="21.6" fill="#fff" stroke="#000" stroke-width="2.2"/>
<rect x="896.7" y="487.9" width="21.6" height="21.6" fill="#fff" stroke="#000" stroke-width="2.2"/>
<rect x="957.1" y="478.1" width="21.6" height="21.6" fill="#fff" stroke="#000" stroke-width="2.2"/>
<rect x="1016.1" y="469.4" width="21.6" height="21.6" fill="#fff" stroke="#000" stroke-width="2.2"/>
<rect x="1077.2" y="460.7" width="21.6" height="21.6" fill="#fff" stroke="#000" stroke-width="2.2"/>
<rect x="1136.2" y="450.7" width="21.6" height="21.6" fill="#fff" stroke="#000" stroke-width="2.2"/>
<rect x="1195.2" y="436.9" width="21.6" height="21.6" fill="#fff" stroke="#000" stroke-width="2.2"/>
<rect x="1254.3" y="423" width="21.6" height="21.6" fill="#fff" stroke="#000" stroke-width="2.2"/>
<rect x="1313.2" y="402" width="21.6" height="21.6" fill="#fff" stroke="#000" stroke-width="2.2"/>
<rect x="1370.2" y="372.2" width="21.6" height="21.6" fill="#fff" stroke="#000" stroke-width="2.2"/>
<rect x="1428.1" y="323.5" width="21.6" height="21.6" fill="#fff" stroke="#000" stroke-width="2.2"/>
<rect x="1477.1" y="212.5" width="21.6" height="21.6" fill="#fff" stroke="#000" stroke-width="2.2"/>
<rect x="1513.5" y="-73.8" width="21.6" height="21.6" fill="#fff" stroke="#000" stroke-width="2.2"/>
<rect x="1433.4" y="239.3" width="21.6" height="21.6" fill="#fff" stroke="#000" stroke-width="2.2"/>
<rect x="1358.2" y="310.8" width="21.6" height="21.6" fill="#fff" stroke="#000" stroke-width="2.2"/>
<rect x="1302.1" y="334.6" width="21.6" height="21.6" fill="#fff" stroke="#000" stroke-width="2.2"/>
<rect x="1243.8" y="351.6" width="21.6" height="21.6" fill="#fff" stroke="#000" stroke-width="2.2"/>
<rect x="1184.7" y="361.5" width="21.6" height="21.6" fill="#fff" stroke="#000" stroke-width="2.2"/>
<rect x="1126.2" y="372.6" width="21.6" height="21.6" fill="#fff" stroke="#000" stroke-width="2.2"/>
<rect x="1066.3" y="379.5" width="21.6" height="21.6" fill="#fff" stroke="#000" stroke-width="2.2"/>
<rect x="1006.1" y="389" width="21.6" height="21.6" fill="#fff" stroke="#000" stroke-width="2.2"/>
<rect x="946.2" y="400.1" width="21.6" height="21.6" fill="#fff" stroke="#000" stroke-width="2.2"/>
<rect x="897.1" y="473.2" width="21.6" height="21.6" fill="#fff" stroke="#000" stroke-width="2.2"/>
<rect x="838.1" y="490.1" width="21.6" height="21.6" fill="#fff" stroke="#000" stroke-width="2.2"/>
<rect x="754.1" y="506.2" width="21.6" height="21.6" fill="#fff" stroke="#000" stroke-width="2.2"/>
<rect x="697.1" y="522.4" width="21.6" height="21.6" fill="#fff" stroke="#000" stroke-width="2.2"/>
<rect x="656.7" y="540.7" width="21.6" height="21.6" fill="#fff" stroke="#000" stroke-width="2.2"/>
<rect x="580.6" y="564.6" width="21.6" height="21.6" fill="#fff" stroke="#000" stroke-width="2.2"/>
<rect x="533.8" y="595.1" width="21.6" height="21.6" fill="#fff" stroke="#000" stroke-width="2.2"/>
<rect x="470.2" y="644.4" width="21.6" height="21.6" fill="#fff" stroke="#000" stroke-width="2.2"/>
</g>
<rect x="337.5" y="292.2" width="21" height="5.5" fill="#000"/>
<rect x="337.5" y="543.4" width="21" height="5.5" fill="#000"/>
<rect x="337.5" y="794.5" width="21" height="5.5" fill="#000"/>
<rect x="337.5" y="1045.6" width="21" height="5.5" fill="#000"/>
<rect x="337.5" y="1296.7" width="21" height="5.5" fill="#000"/>
<rect x="349.5" y="166.7" width="9" height="5.5" fill="#000"/>
<rect x="349.5" y="417.8" width="9" height="5.5" fill="#000"/>
<rect x="349.5" y="668.9" width="9" height="5.5" fill="#000"/>
<rect x="349.5" y="920" width="9" height="5.5" fill="#000"/>
<rect x="349.5" y="1171.2" width="9" height="5.5" fill="#000"/>
<rect x="349.5" y="1422.3" width="9" height="5.5" fill="#000"/>
<rect x="357.8" y="1551" width="5.5" height="20" fill="#000"/>
<rect x="477.1" y="1551" width="5.5" height="8" fill="#000"/>
<rect x="477.1" y="49" width="5.5" height="8" fill="#000"/>
<rect x="596.5" y="1551" width="5.5" height="20" fill="#000"/>
<rect x="596.5" y="49" width="5.5" height="19" fill="#000"/>
<rect x="715.8" y="1551" width="5.5" height="8" fill="#000"/>
<rect x="715.8" y="49" width="5.5" height="8" fill="#000"/>
<rect x="835.2" y="1551" width="5.5" height="20" fill="#000"/>
<rect x="835.2" y="49" width="5.5" height="19" fill="#000"/>
<rect x="954.5" y="1551" width="5.5" height="8" fill="#000"/>
<rect x="954.5" y="49" width="5.5" height="8" fill="#000"/>
<rect x="1073.9" y="1551" width="5.5" height="20" fill="#000"/>
<rect x="1073.9" y="49" width="5.5" height="19" fill="#000"/>
<rect x="1193.3" y="1551" width="5.5" height="8" fill="#000"/>
<rect x="1193.3" y="49" width="5.5" height="8" fill="#000"/>
<rect x="1312.6" y="1551" width="5.5" height="20" fill="#000"/>
<rect x="1312.6" y="49" width="5.5" height="19" fill="#000"/>
<rect x="1432" y="1551" width="5.5" height="8" fill="#000"/>
<rect x="1432" y="49" width="5.5" height="8" fill="#000"/>
<rect x="1551.3" y="1551" width="5.5" height="20" fill="#000"/>
<text x="343.4" y="322.6" font-family="'Liberation Serif', 'Times New Roman', serif" font-size="95" text-anchor="end">140</text>
<text x="343.4" y="573.7" font-family="'Liberation Serif', 'Times New Roman', serif" font-size="95" text-anchor="end">120</text>
<text x="343.4" y="824.8" font-family="'Liberation Serif', 'Times New Roman', serif" font-size="95" text-anchor="end">100</text>
<text x="343.4" y="1076" font-family="'Liberation Serif', 'Times New Roman', serif" font-size="95" text-anchor="end">80</text>
<text x="343.4" y="1327.1" font-family="'Liberation Serif', 'Times New Roman', serif" font-size="95" text-anchor="end">60</text>
<text x="360.5" y="1655.5" font-family="'Liberation Serif', 'Times New Roman', serif" font-size="95" text-anchor="middle">0.0</text>
<text x="599.2" y="1655.5" font-family="'Liberation Serif', 'Times New Roman', serif" font-size="95" text-anchor="middle">0.2</text>
<text x="837.9" y="1655.5" font-family="'Liberation Serif', 'Times New Roman', serif" font-size="95" text-anchor="middle">0.4</text>
<text x="1076.7" y="1655.5" font-family="'Liberation Serif', 'Times New Roman', serif" font-size="95" text-anchor="middle">0.6</text>
<text x="1315.4" y="1655.5" font-family="'Liberation Serif', 'Times New Roman', serif" font-size="95" text-anchor="middle">0.8</text>
<text x="1554.1" y="1655.5" font-family="'Liberation Serif', 'Times New Roman', serif" font-size="95" text-anchor="middle">1.0</text>
<text y="1785" font-family="'Liberation Serif', 'Times New Roman', serif" font-size="95"><tspan x="509">Relative pressure (p/p</tspan><tspan x="1340.7" y="1810" font-size="65">0</tspan><tspan x="1372" y="1785">)</tspan></text>
<g transform="translate(118 0) rotate(-90)"><text font-family="'Liberation Serif', 'Times New Roman', serif" font-size="79"><tspan x="-1296.2" y="0">Adsorbed volume, cm</tspan><tspan x="-597.8" y="-31" font-size="52">3</tspan><tspan x="-549.6" y="0">(STP)/g</tspan></text></g>
<line x1="532" y1="1210.2" x2="677.6" y2="1210.2" stroke="#000" stroke-width="3"/>
<rect x="594.3" y="1199.7" width="21" height="21" fill="#000"/>
<text x="690.8" y="1231.5" font-family="'Liberation Serif', 'Times New Roman', serif" font-size="64">Z-h</text>
<line x1="532" y1="1289.9" x2="677.6" y2="1289.9" stroke="#0f0" stroke-width="2.5"/>
<path d="M604.8 1272.6L619.8 1298.6L589.8 1298.6Z" fill="#0f0"/>
<text x="693" y="1311.2" font-family="'Liberation Serif', 'Times New Roman', serif" font-size="64">10Ni/Z-h</text>
<line x1="532" y1="1369.4" x2="677.6" y2="1369.4" stroke="#00f" stroke-width="2.5"/>
<circle cx="604.8" cy="1369.4" r="12" fill="#00f"/>
<text x="690.6" y="1391" font-family="'Liberation Serif', 'Times New Roman', serif" font-size="64">5Ru/Z-h</text>
<line x1="532" y1="1449.2" x2="677.6" y2="1449.2" stroke="#000" stroke-width="3"/>
<rect x="594" y="1438.4" width="21.6" height="21.6" fill="#fff" stroke="#000" stroke-width="2.2"/>
<text x="691" y="1470.5" font-family="'Liberation Serif', 'Times New Roman', serif" font-size="64">Z</text>
<line x1="974.8" y1="1209.9" x2="1120.4" y2="1209.9" stroke="#f00" stroke-width="2.5"/>
<path d="M1047.6 1195.1L1062.4 1209.9L1047.6 1224.7L1032.8 1209.9Z" fill="#f00"/>
<text x="1135.4" y="1231.5" font-family="'Liberation Serif', 'Times New Roman', serif" font-size="64">10Ni1Pt/Z-h</text>
<line x1="976" y1="1289.5" x2="1120.4" y2="1289.5" stroke="#f0f" stroke-width="2.5"/>
<path d="M1029.7 1289.5L1057.5 1272.8L1057.5 1306.2Z" fill="#f0f"/>
<text x="1136.7" y="1311" font-family="'Liberation Serif', 'Times New Roman', serif" font-size="64">1Pt/Z-h</text>
<line x1="987.2" y1="1369.2" x2="1131.9" y2="1369.2" stroke="#000" stroke-width="3"/>
<path d="M1059.6 1353.7L1063.3 1364L1074.3 1364.4L1065.6 1371.2L1068.7 1381.7L1059.6 1375.6L1050.4 1381.7L1053.5 1371.2L1044.8 1364.4L1055.8 1364Z" fill="#000"/>
<text x="1147.1" y="1391" font-family="'Liberation Serif', 'Times New Roman', serif" font-size="64">5Ru1Pt/Z-h</text>
</svg>
</body></html>
